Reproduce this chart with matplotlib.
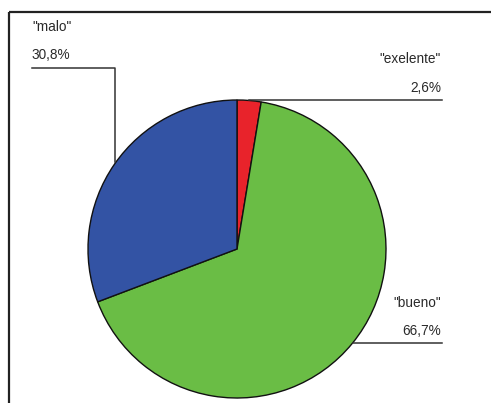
import matplotlib
matplotlib.use("Agg")
import matplotlib.pyplot as plt

labels = ['"exelente"', '"bueno"', '"malo"']
values = [2.6, 66.7, 30.8]
pct_labels = ["2,6%", "66,7%", "30,8%"]
colors = ["#e8232b", "#6abd45", "#3353a4"]

W, H = 491, 403
fig = plt.figure(figsize=(W / 100, H / 100), dpi=100)
ax = fig.add_axes([0, 0, 1, 1])

def py(y):
    # pixel row (from top) -> data y
    return H - y

cx, cy, r = 237, py(249), 149
ax.pie(values, colors=colors, startangle=90, counterclock=False,
       center=(cx, cy), radius=r, frame=True,
       wedgeprops=dict(edgecolor="#111111", linewidth=1.0))
ax.set_xlim(0, W)
ax.set_ylim(0, H)
ax.axis("off")

# frame lines
ax.plot([9, W], [py(12), py(12)], color="#222222", lw=1.6, solid_capstyle="butt")
ax.plot([9, 9], [py(12), 0], color="#222222", lw=1.6, solid_capstyle="butt")

lc = "#333333"
txt = dict(fontsize=9.8, family="Liberation Sans", color="#2a2a2a", va="center")

# exelente
ax.plot([249, 442], [py(100), py(100)], color=lc, lw=1.1)
ax.text(441, py(59), labels[0], ha="right", **txt)
ax.text(441, py(88), pct_labels[0], ha="right", **txt)

# bueno
ax.plot([353, 442], [py(343), py(343)], color=lc, lw=1.1)
ax.text(441, py(303), labels[1], ha="right", **txt)
ax.text(441, py(331), pct_labels[1], ha="right", **txt)

# malo
ax.plot([32, 115, 115], [py(68), py(68), py(162)], color=lc, lw=1.1)
ax.text(32, py(27), labels[2], ha="left", **txt)
ax.text(32, py(55), pct_labels[2], ha="left", **txt)

fig.savefig("out.png", dpi=100)
